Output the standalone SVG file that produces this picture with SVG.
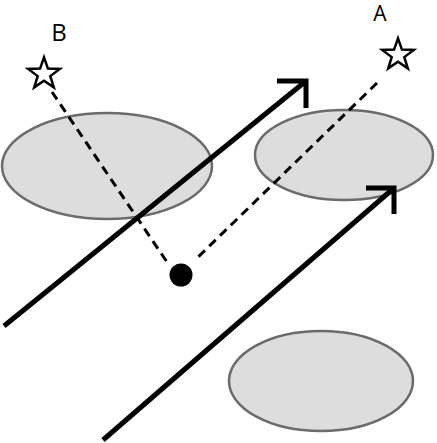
<svg xmlns="http://www.w3.org/2000/svg" width="437" height="443" viewBox="0 0 437 443">
<style>
.region{fill:#dddddd;stroke:#6b6b6b;stroke-width:2.5}
.ray{fill:none;stroke:#000;stroke-width:5;stroke-linecap:butt;stroke-linejoin:miter}
.sight{fill:none;stroke:#000;stroke-width:3;stroke-dasharray:9 6}
.star{fill:#fff;stroke:#000;stroke-width:2.5;stroke-linejoin:miter}
.lbl{font-family:"Open Sans","Liberation Sans",sans-serif;fill:#000;text-anchor:middle}
</style>
<defs>
<polygon id="starShape" points="0,-16.6 3.9,-5.4 15.8,-5.1 6.3,2.1 9.8,13.4 0,6.7 -9.8,13.4 -6.3,2.1 -15.8,-5.1 -3.9,-5.4"/>
</defs>
<g id="region1"><ellipse class="region" cx="107" cy="166" rx="105" ry="53"/></g>
<g id="region2"><ellipse class="region" cx="344" cy="155" rx="89" ry="45"/></g>
<g id="region3"><ellipse class="region" cx="321" cy="381" rx="92" ry="50"/></g>
<g id="connectors">
<path class="sight" d="M52,92 L167,262"/>
<path class="sight" d="M377,83 L195,260"/>
<path class="ray" d="M4,326 L306,81"/>
<path class="ray" d="M277,81 L306,81 L306,108"/>
<path class="ray" d="M103,440 L394,188"/>
<path class="ray" d="M366,188 L394,188 L394,214"/>
</g>
<g id="observer"><circle cx="181" cy="275" r="11.5" fill="#000"/></g>
<g id="starB"><use href="#starShape" class="star" x="44" y="74"/><text class="lbl" x="59" y="41" font-size="24">B</text></g>
<g id="starA"><use href="#starShape" class="star" x="398" y="55"/><text class="lbl" x="380" y="21" font-size="21">A</text></g>
</svg>
